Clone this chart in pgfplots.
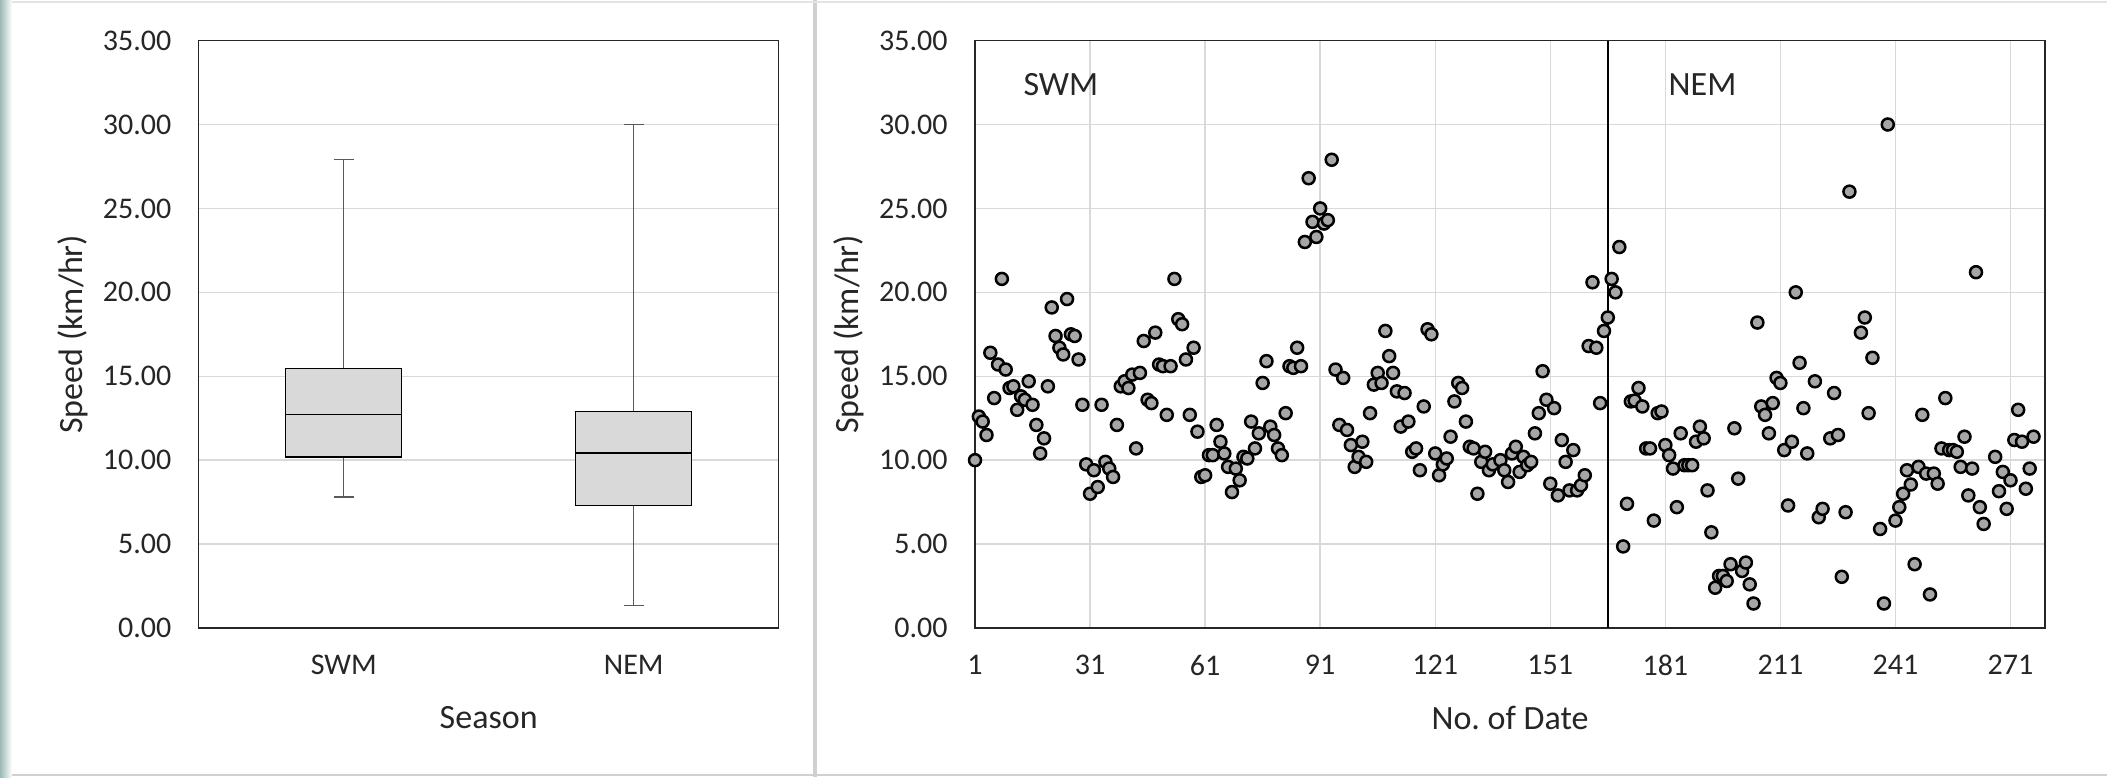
\documentclass[border=0pt]{standalone}
\usepackage{fontspec}
\setmainfont{Carlito}
\usepackage{pgfplots}
\usepackage{pgfplotstable}
\pgfplotsset{compat=1.18}

\definecolor{gridc}{HTML}{D9D9D9}
\definecolor{boxfill}{HTML}{D9D9D9}
\definecolor{markfill}{HTML}{A6A6A6}
\definecolor{txt}{HTML}{262626}
\definecolor{whisk}{HTML}{595959}
\definecolor{teal1}{HTML}{9DB8B4}
\definecolor{panelline}{HTML}{D0D0D0}

\pgfplotstableread{
x y
1 10.0
2 12.6
3 12.3
4 11.5
5 16.4
6 13.7
7 15.7
8 20.8
9 15.4
10 14.3
11 14.4
12 13.0
13 13.8
14 13.6
15 14.7
16 13.3
17 12.1
18 10.4
19 11.3
20 14.4
21 19.1
22 17.4
23 16.7
24 16.3
25 19.6
26 17.5
27 17.4
28 16.0
29 13.3
30 9.75
31 8.0
32 9.4
33 8.4
34 13.3
35 9.9
36 9.5
37 9.0
38 12.1
39 14.4
40 14.7
41 14.3
42 15.1
43 10.7
44 15.2
45 17.1
46 13.6
47 13.4
48 17.6
49 15.7
50 15.6
51 12.7
52 15.6
53 20.8
54 18.4
55 18.1
56 16.0
57 12.7
58 16.7
59 11.7
60 9.0
61 9.1
62 10.3
63 10.3
64 12.1
65 11.1
66 10.4
67 9.6
68 8.1
69 9.5
70 8.8
71 10.2
72 10.1
73 12.3
74 10.7
75 11.6
76 14.6
77 15.9
78 12.0
79 11.5
80 10.7
81 10.3
82 12.8
83 15.6
84 15.5
85 16.7
86 15.6
87 23.0
88 26.8
89 24.2
90 23.3
91 25.0
92 24.1
93 24.3
94 27.9
95 15.4
96 12.1
97 14.9
98 11.8
99 10.9
100 9.6
101 10.2
102 11.1
103 9.9
104 12.8
105 14.5
106 15.2
107 14.6
108 17.7
109 16.2
110 15.2
111 14.1
112 12.0
113 14.0
114 12.3
115 10.5
116 10.7
117 9.4
118 13.2
119 17.8
120 17.5
121 10.4
122 9.1
123 9.75
124 10.1
125 11.4
126 13.5
127 14.6
128 14.3
129 12.3
130 10.8
131 10.7
132 8.0
133 9.9
134 10.5
135 9.4
136 9.75
138 10.0
139 9.4
140 8.7
141 10.4
142 10.8
143 9.3
144 10.2
145 9.7
146 9.9
147 11.6
148 12.8
149 15.3
150 13.6
151 8.6
152 13.1
153 7.9
154 11.2
155 9.9
156 8.2
157 10.6
158 8.2
159 8.5
160 9.1
161 16.8
162 20.6
163 16.7
164 13.4
165 17.7
166 18.5
167 20.8
168 20.0
169 22.7
170 4.86
171 7.4
172 13.5
173 13.55
174 14.3
175 13.2
176 10.7
177 10.7
178 6.4
179 12.8
180 12.9
181 10.9
182 10.3
183 9.5
184 7.2
185 11.6
186 9.7
187 9.7
188 9.7
189 11.1
190 12.0
191 11.3
192 8.2
193 5.7
194 2.4
195 3.1
196 3.1
197 2.8
198 3.8
199 11.9
200 8.9
201 3.4
202 3.9
203 2.6
204 1.46
205 18.2
206 13.2
207 12.7
208 11.6
209 13.4
210 14.9
211 14.6
212 10.6
213 7.3
214 11.1
215 20.0
216 15.8
217 13.1
218 10.4
220 14.7
221 6.6
222 7.1
224 11.3
225 14.0
226 11.5
227 3.05
228 6.9
229 26.0
232 17.6
233 18.5
234 12.8
235 16.1
237 5.9
238 1.46
239 30.0
241 6.4
242 7.2
243 8.0
244 9.4
245 8.55
246 3.8
247 9.6
248 12.7
249 9.2
250 2.0
251 9.2
252 8.6
253 10.7
254 13.7
255 10.6
256 10.6
257 10.5
258 9.6
259 11.4
260 7.9
261 9.5
262 21.2
263 7.2
264 6.2
267 10.2
268 8.15
269 9.3
270 7.1
271 8.8
272 11.2
273 13.0
274 11.1
275 8.3
276 9.5
277 11.4
}\scatterdata

\pgfplotsset{
  common/.style={
    scale only axis,
    anchor=south west,
    ymin=0, ymax=35,
    ytick={0,5,...,35},
    ymajorgrids,
    grid style={gridc, line width=0.7pt},
    axis line style={black!85, line width=0.7pt},
    major tick length=0pt,
    tick style={draw=none},
    font=\fontsize{15}{18}\selectfont,
    tick label style={text=txt, font=\fontsize{15}{18}\selectfont},
    /pgf/number format/assume math mode=true,
    yticklabel style={/pgf/number format/fixed, /pgf/number format/fixed zerofill, /pgf/number format/precision=2},
    yticklabel style={anchor=east, inner sep=0pt, xshift=-13.5pt},
    xticklabel style={anchor=center, yshift=-18.5pt},
    label style={text=txt, font=\fontsize{17}{20}\selectfont},
  }
}

\begin{document}
\begin{tikzpicture}[x=1pt,y=1pt]
\fill[white] (0,0) rectangle (1053.5,388.5);
\useasboundingbox (0,0) rectangle (1053.5,388.5);
\fill[left color=teal1, right color=white] (0,0) rectangle (6,388.5);
\fill[panelline] (406.5,0) rectangle (408.5,388.5);
\draw[panelline, line width=1pt] (6,1) -- (1053.5,1);
\draw[panelline!60, line width=1pt] (6,387.5) -- (1053.5,387.5);

\begin{axis}[common,
  at={(99.35pt,74.5pt)},
  width=290pt, height=293.7pt,
  xmin=0.5, xmax=2.5,
  xtick={1,2}, xticklabels={SWM,NEM},
  xlabel={Season},
  ylabel={Speed (km/hr)},
  xlabel style={at={(axis description cs:0.5,-0.1524)}, anchor=center},
  ylabel style={at={(axis description cs:-0.2169,0.5)}, anchor=center},
]
% whiskers (SWM)
\addplot[whisk, line width=0.65pt] coordinates {(1,15.47) (1,27.9)};
\addplot[whisk, line width=0.65pt] coordinates {(1,10.2) (1,7.81)};
\addplot[whisk, line width=0.65pt] coordinates {(0.965,27.9) (1.035,27.9)};
\addplot[whisk, line width=0.65pt] coordinates {(0.965,7.81) (1.035,7.81)};
% whiskers (NEM)
\addplot[whisk, line width=0.65pt] coordinates {(2,12.9) (2,30.0)};
\addplot[whisk, line width=0.65pt] coordinates {(2,7.31) (2,1.33)};
\addplot[whisk, line width=0.65pt] coordinates {(1.965,30.0) (2.035,30.0)};
\addplot[whisk, line width=0.65pt] coordinates {(1.965,1.33) (2.035,1.33)};
% boxes
\addplot[draw=black, fill=boxfill, line width=0.75pt] coordinates {(0.8,10.2) (1.2,10.2) (1.2,15.47) (0.8,15.47)} -- cycle;
\addplot[draw=black, fill=boxfill, line width=0.75pt] coordinates {(1.8,7.31) (2.2,7.31) (2.2,12.9) (1.8,12.9)} -- cycle;
% medians
\addplot[black, line width=0.9pt] coordinates {(0.8,12.72) (1.2,12.72)};
\addplot[black, line width=0.9pt] coordinates {(1.8,10.41) (2.2,10.41)};
\end{axis}

\begin{axis}[common,
  at={(487.5pt,74.5pt)},
  width=535pt, height=293.7pt,
  xmin=1, xmax=280,
  xtick={1,31,...,271},
  xmajorgrids,
  xlabel={No.\ of Date},
  ylabel={Speed (km/hr)},
  xlabel style={at={(axis description cs:0.5,-0.1524)}, anchor=center},
  ylabel style={at={(axis description cs:-0.1178,0.5)}, anchor=center},
]
\addplot[only marks, mark=*, mark size=3pt,
  mark options={fill=markfill, draw=black, line width=1.25pt}] table[x=x, y=y] {\scatterdata};
\addplot[black, line width=1.3pt] coordinates {(166,0) (166,35)};
\node[text=txt, font=\fontsize{17}{20}\selectfont] at (axis cs:23.4,32.4) {SWM};
\node[text=txt, font=\fontsize{17}{20}\selectfont] at (axis cs:190.7,32.4) {NEM};
\end{axis}
\end{tikzpicture}
\end{document}
